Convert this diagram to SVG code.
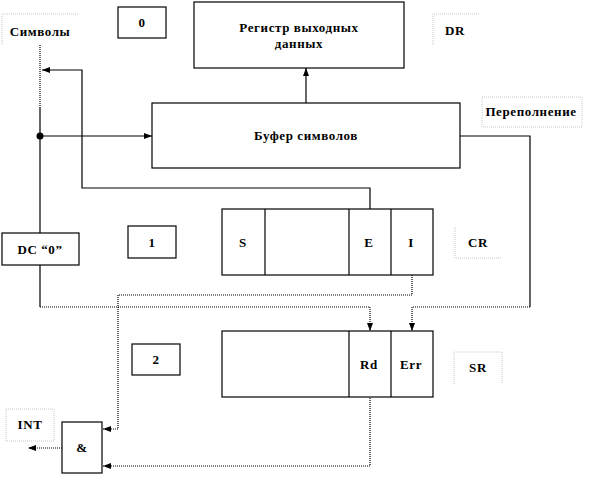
<svg xmlns="http://www.w3.org/2000/svg" width="590" height="478" viewBox="0 0 590 478">
<style>
text{font-family:"Liberation Serif","Times New Roman",serif;font-weight:bold;font-size:13px;letter-spacing:0.6px;fill:#000;text-anchor:middle;dominant-baseline:central}
.box{fill:#fff;stroke:#000;stroke-width:1.2}
.ln{fill:none;stroke:#000;stroke-width:1.2}
.dot{fill:none;stroke:#000;stroke-width:1.2;stroke-dasharray:1,1}
.lbl{fill:none;stroke:#c8c8c8;stroke-width:1;stroke-dasharray:1,1}
</style>
<defs>
<marker id="ah" viewBox="0 0 8 6" refX="8" refY="3" markerWidth="8" markerHeight="6" markerUnits="userSpaceOnUse" orient="auto">
<path d="M0,0L8,3L0,6z" fill="#000"/>
</marker>
</defs>
<rect width="590" height="478" fill="#fff"/>

<g id="connectors">
<line class="dot" x1="40" y1="45" x2="40" y2="108"/>
<line class="ln" x1="40" y1="108" x2="40" y2="233"/>
<circle cx="40" cy="136" r="3.5" fill="#000"/>
<line class="ln" x1="40" y1="136" x2="152" y2="136" marker-end="url(#ah)"/>
<path class="ln" d="M370,209V188H82V70H42" marker-end="url(#ah)"/>
<line class="ln" x1="306" y1="103" x2="306" y2="68" marker-end="url(#ah)"/>
<path class="ln" d="M460,136H530V307"/>
<path class="dot" d="M530,307H412V331" marker-end="url(#ah)"/>
<line class="ln" x1="40" y1="265" x2="40" y2="307"/>
<path class="dot" d="M40,307H370V331" marker-end="url(#ah)"/>
<path class="dot" d="M412,275V295H118V429H103" marker-end="url(#ah)"/>
<path class="dot" d="M370,398V466H103" marker-end="url(#ah)"/>
<line class="dot" x1="62" y1="448" x2="28" y2="448" marker-end="url(#ah)"/>
</g>

<g id="lbl-symbols">
<path class="lbl" d="M2,45V14H79"/>
<text x="40" y="31">Символы</text>
</g>
<g id="box0">
<rect class="box" x="118" y="7" width="48" height="31"/>
<text x="142" y="22">0</text>
</g>
<g id="dr-reg">
<rect class="box" x="194" y="2" width="210" height="66"/>
<text x="299" y="27">Регистр выходных</text>
<text x="299" y="43">данных</text>
</g>
<g id="lbl-dr">
<path class="lbl" d="M433,45V14H480"/>
<text x="455" y="30">DR</text>
</g>
<g id="buffer">
<rect class="box" x="152" y="103" width="308" height="65"/>
<text x="306" y="135">Буфер символов</text>
</g>
<g id="lbl-overflow">
<path class="lbl" d="M482,127V97H582V127H482"/>
<text x="531" y="111">Переполнение</text>
</g>
<g id="dc0">
<rect class="box" x="2" y="233" width="77" height="32"/>
<text x="40" y="249">DC “0”</text>
</g>
<g id="box1">
<rect class="box" x="128" y="226" width="48" height="32"/>
<text x="152" y="242">1</text>
</g>
<g id="cr">
<rect class="box" x="222" y="209" width="211" height="66"/>
<line class="ln" x1="265" y1="209" x2="265" y2="275"/>
<line class="ln" x1="349" y1="209" x2="349" y2="275"/>
<line class="ln" x1="391" y1="209" x2="391" y2="275"/>
<text x="243" y="242">S</text>
<text x="369" y="242">E</text>
<text x="411" y="242">I</text>
</g>
<g id="lbl-cr">
<path class="lbl" d="M455,227V258H502"/>
<text x="478" y="242">CR</text>
</g>
<g id="box2">
<rect class="box" x="132" y="344" width="48" height="31"/>
<text x="156" y="359">2</text>
</g>
<g id="sr">
<rect class="box" x="222" y="331" width="211" height="66"/>
<line class="ln" x1="349" y1="331" x2="349" y2="397"/>
<line class="ln" x1="391" y1="331" x2="391" y2="397"/>
<text x="369" y="364">Rd</text>
<text x="411" y="364">Err</text>
</g>
<g id="lbl-sr">
<path class="lbl" d="M454,384V352H502V384"/>
<text x="478" y="367">SR</text>
</g>
<g id="lbl-int">
<rect class="lbl" x="6" y="409" width="48" height="32"/>
<text x="30" y="424">INT</text>
</g>
<g id="and">
<rect class="box" x="62" y="422" width="40" height="51"/>
<text x="82" y="447">&amp;</text>
</g>
</svg>
